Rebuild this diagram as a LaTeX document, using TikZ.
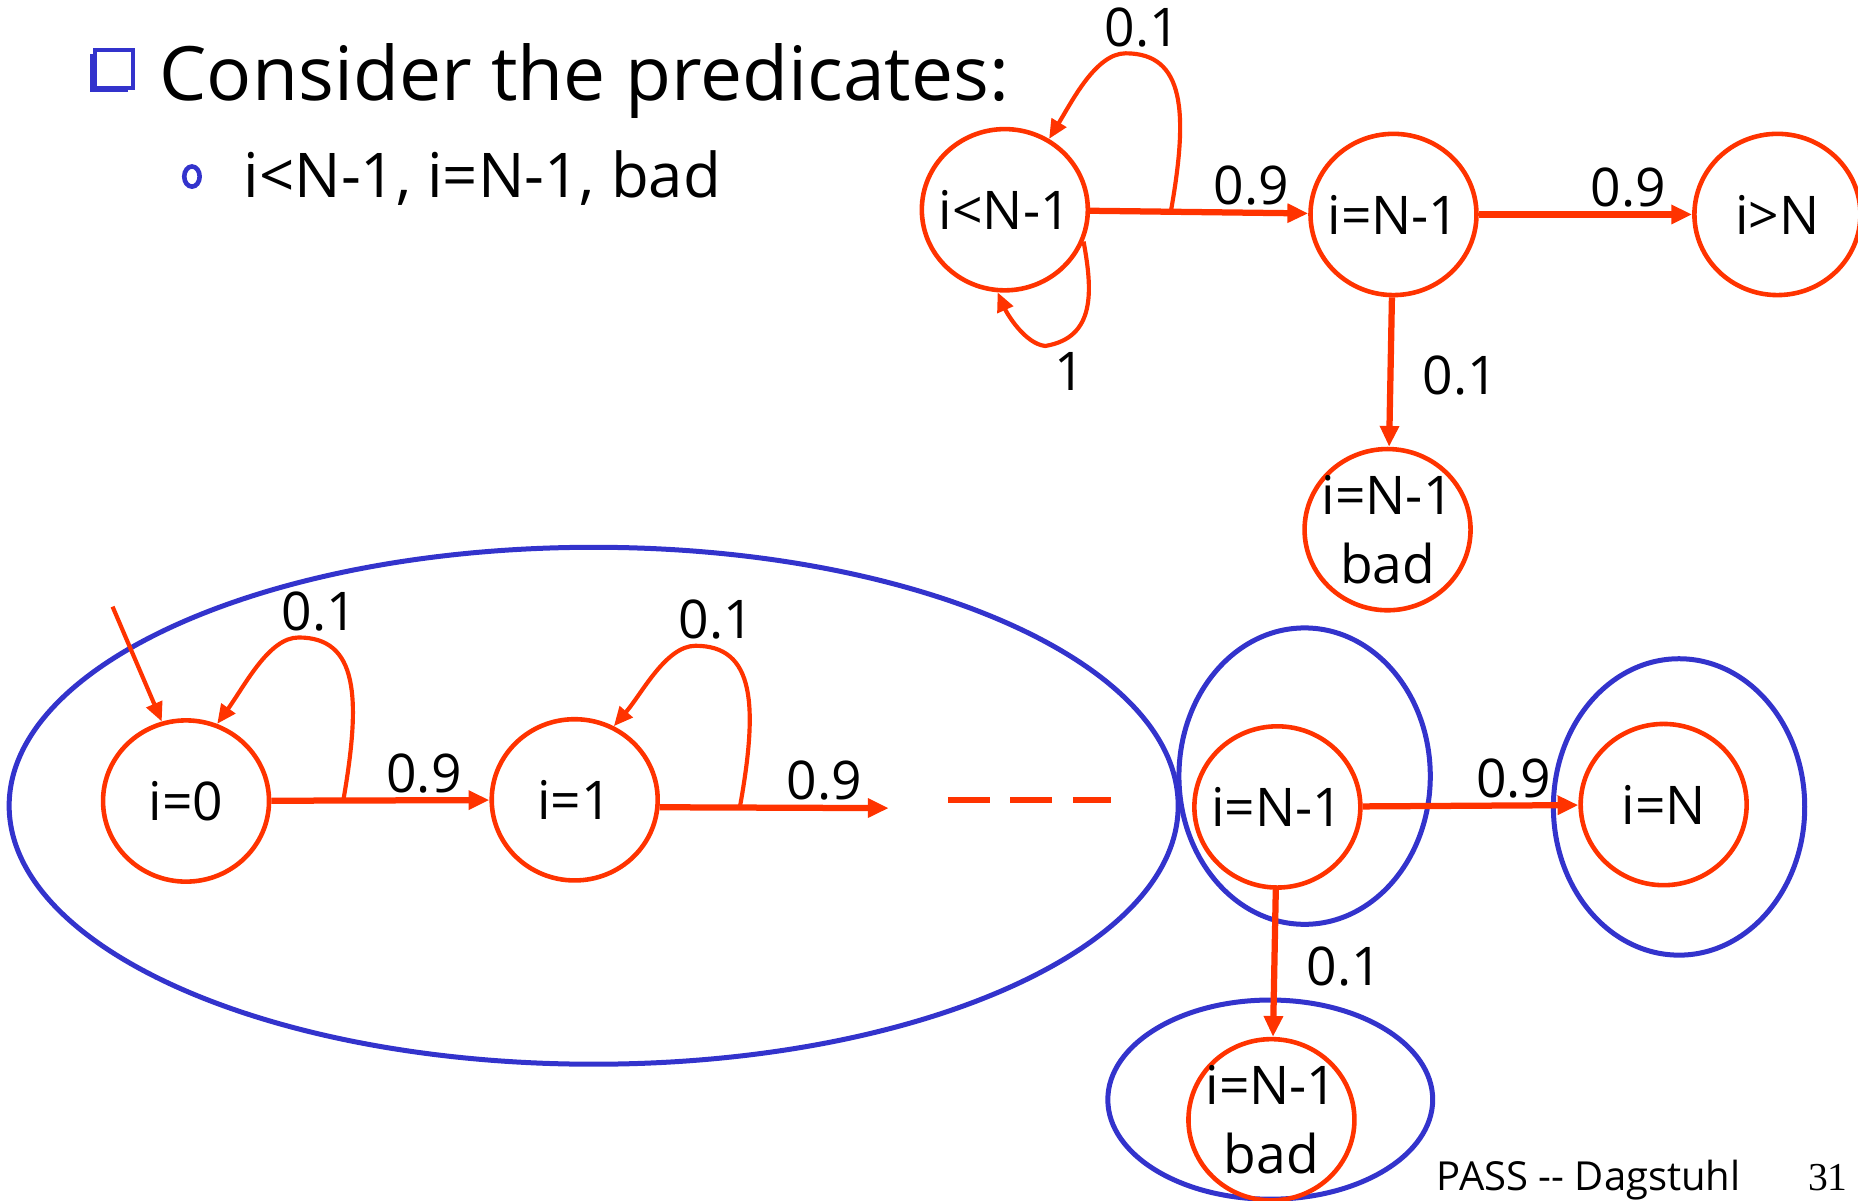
\documentclass[tikz,border=0pt]{standalone}
\usepackage{fontspec}
\setmainfont{Open Sans}
\newfontfamily\pagefont{Liberation Serif}
\usetikzlibrary{arrows.meta,shapes.geometric}
\definecolor{stred}{RGB}{255,51,0}
\definecolor{grpblue}{RGB}{51,51,204}

\begin{document}
\begin{tikzpicture}[
    x=0.01cm, y=-0.01cm,
    every node/.style={font=\fontsize{12.8}{16.5}\selectfont},
    state/.style={draw=stred, line width=1.1pt, ellipse, inner sep=-6pt, minimum width=1.4cm, minimum height=1.36cm, align=center},
    group/.style={draw=grpblue, line width=1.2pt, ellipse, inner sep=0pt},
    edge/.style={draw=stred, line width=1.5pt, -{Triangle[length=5pt,width=4.4pt]}},
    loopedge/.style={draw=stred, line width=1pt, -{Triangle[length=4.6pt,width=4pt]}},
    lbl/.style={inner sep=1pt},
    plain/.style={anchor=base west, inner sep=0pt}
  ]
    \useasboundingbox (0,0) rectangle (1568,1013);

    % heading
    \fill[grpblue] (76,46) rectangle (108,78);
    \draw[grpblue, fill=white, line width=0.9pt] (80,42) rectangle (112,74);
    \node[plain, font=\fontsize{18}{21}\selectfont] (title) at (134,85) {Consider the predicates:};
    \node[draw=grpblue, line width=1.1pt, ellipse, inner sep=0pt, minimum width=0.13cm, minimum height=0.17cm] (dot) at (162,149) {};
    \node[plain, font=\fontsize{14.8}{18}\selectfont] (preds) at (205,167) {i<N-1, i=N-1, bad};

    % abstract chain
    \node[state] (A) at (848,177) {i<N-1};
    \node[state] (B) at (1176,181) {i=N-1};
    \node[state] (C) at (1500,181) {i>N};
    \node[state] (D) at (1171,447) {i=N-1\\bad};

    \draw[edge] (A) -- coordinate[pos=0.37] (asplit) node[lbl, pos=0.74, above] (l09a) {0.9} (B);
    \draw[edge] (B) -- node[lbl, pos=0.70, above] (l09b) {0.9} (C);
    \draw[edge] (B) -- node[lbl, pos=0.52, right=6pt] (l01b) {0.1} (D);
    \draw[loopedge] (asplit) .. controls (1003,95) and (1000,45) .. (950,45) node[lbl, above, xshift=4pt] (l01a) {0.1}
      .. controls (925,45) and (905,85) .. (A.58);
    \draw[loopedge] (A.-22) .. controls (922,245) and (925,285) .. (882,292) node[lbl, below, xshift=6pt] (l1a) {1}
      .. controls (865,290) and (850,265) .. (A.265);

    % concrete chain with groups
    \node[group, minimum width=9.86cm, minimum height=4.36cm] (gfirst) at (501,680) {};
    \node[group, minimum width=2.12cm, minimum height=2.5cm] (glast) at (1101,655) {};
    \node[group, minimum width=2.12cm, minimum height=2.5cm] (gtop) at (1417,681) {};
    \node[group, minimum width=2.74cm, minimum height=1.68cm] (gbad) at (1072,928) {};

    \node[state] (I0) at (157,676) {i=0};
    \node[state] (I1) at (485,675) {i=1};
    \node[state] (N1) at (1078,681) {i=N-1};
    \node[state] (NN) at (1404,679) {i=N};
    \node[state] (NB) at (1073,945) {i=N-1\\bad};

    \coordinate (init) at (95,512);
    \coordinate (i1out) at (750,682);
    \coordinate (dashL) at (800,675);
    \coordinate (dashR) at (938,675);

    \draw[loopedge] (init) -- (I0.107);
    \draw[edge] (I0) -- coordinate[pos=0.33] (s0) node[lbl, pos=0.70, above] (l09c) {0.9} (I1);
    \draw[edge] (I1.-5) -- coordinate[pos=0.35] (s1) node[lbl, pos=0.72, above] (l09d) {0.9} (i1out);
    \draw[stred, line width=1.5pt, dash pattern=on 10pt off 5pt] (dashL) -- (dashR);
    \draw[loopedge] (s0) .. controls (305,588) and (302,538) .. (252,538) node[lbl, above, xshift=5pt] (l01c) {0.1}
      .. controls (227,538) and (207,578) .. (I0.68);
    \draw[loopedge] (s1) .. controls (640,595) and (637,545) .. (587,545) node[lbl, above, xshift=5pt] (l01d) {0.1}
      .. controls (562,545) and (542,585) .. (I1.62);
    \draw[edge] (N1) -- node[lbl, pos=0.70, above] (l09e) {0.9} (NN);
    \draw[edge] (N1) -- node[lbl, pos=0.52, right=6pt] (l01e) {0.1} (NB);

    % footer
    \node[plain, font=\fontsize{9.6}{12}\selectfont] (footer) at (1212,1005) {PASS -{}- Dagstuhl};
    \node[anchor=base east, inner sep=0pt, font=\pagefont\fontsize{9.5}{11}\selectfont] (page) at (1560,1005) {31};
  \end{tikzpicture}
\end{document}
